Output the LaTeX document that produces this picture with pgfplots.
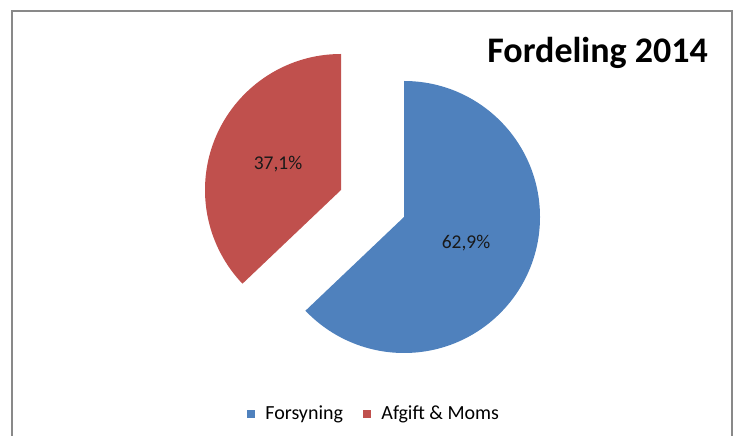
\documentclass[border=0pt]{standalone}
\usepackage{pgfplots}
\pgfplotsset{compat=1.18}
\usepackage{pgfplotstable}
\usepackage{fontspec}
\setmainfont{Carlito}
\definecolor{blueC}{HTML}{4F81BD}
\definecolor{redC}{HTML}{C0504D}
\definecolor{frameC}{HTML}{898989}
\pgfplotstableread{
label value
Forsyning 62.9
Afgift 37.1
}\piedata
\begin{document}
\begin{tikzpicture}
\clip (0,0) rectangle (737bp,436bp);
\pgfplotstablegetelem{0}{value}\of\piedata \let\valA\pgfplotsretval
\pgfplotstablegetelem{1}{value}\of\piedata \let\valB\pgfplotsretval
\pgfmathsetmacro{\angA}{90-\valA*3.6}
\pgfmathsetmacro{\angB}{90+\valB*3.6}
\begin{axis}[
  at={(0,0)}, anchor=south west,
  scale only axis, width=737bp, height=436bp,
  xmin=0, xmax=737, ymin=0, ymax=436,
  hide axis, clip=false,
  legend style={at={(axis cs:374,23)}, anchor=center, draw=none, fill=none,
    legend columns=2, font=\fontsize{20bp}{24bp}\selectfont,
    /tikz/every even column/.append style={column sep=18bp},
    /tikz/every odd column/.append style={column sep=9bp},
    inner sep=0pt},
  legend cell align=left,
  legend image code/.code={\fill[#1] (0bp,-4bp) rectangle (7bp,3bp);},
]
\addlegendimage{blueC}
\addlegendentry{Forsyning}
\addlegendimage{redC}
\addlegendentry{Afgift \& Moms}
% frame
\draw[frameC, line width=1.6bp] (axis cs:12,-10) -- (axis cs:12,425) -- (axis cs:732,425) -- (axis cs:732,-10);
% slices
\fill[blueC] (axis cs:404,219) -- (axis cs:404,355) arc[start angle=90, end angle=\angA, radius=136bp] -- cycle;
\fill[redC] (axis cs:341,246) -- (axis cs:341,382) arc[start angle=90, end angle=\angB, radius=136bp] -- cycle;
% labels
\node[font=\fontsize{19.5bp}{23bp}\selectfont, text=black!90] at (axis cs:466,193) {62,9\%};
\node[font=\fontsize{19.5bp}{23bp}\selectfont, text=black!90] at (axis cs:278,272) {37,1\%};
\node[font=\fontsize{36bp}{42bp}\selectfont\bfseries, anchor=base east, inner sep=0pt] at (axis cs:708,373) {Fordeling 2014};
\end{axis}
\end{tikzpicture}
\end{document}
